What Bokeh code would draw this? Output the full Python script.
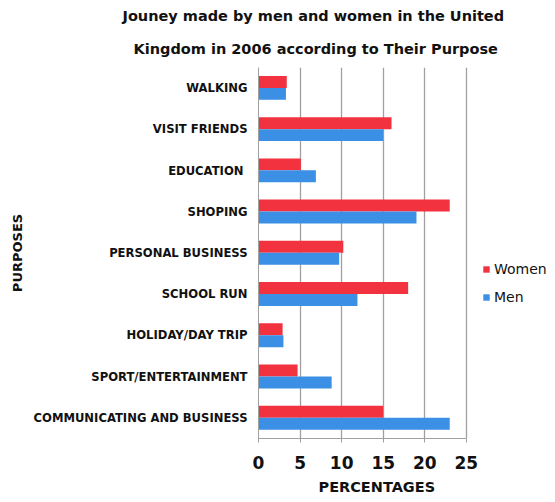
from bokeh.plotting import figure
from bokeh.models import FactorRange, Legend, LegendItem, Title, ColumnDataSource, FixedTicker
from bokeh.transform import dodge
from bokeh.embed import file_html
from bokeh.resources import INLINE

purposes = ["WALKING", "VISIT FRIENDS", "EDUCATION ", "SHOPING", "PERSONAL BUSINESS",
            "SCHOOL RUN", "HOLIDAY/DAY TRIP", "SPORT/ENTERTAINMENT", "COMMUNICATING AND BUSINESS"]
women = [3.4, 16.0, 5.1, 23.0, 10.2, 18.0, 2.9, 4.7, 15.0]
men = [3.3, 15.0, 6.9, 19.0, 9.7, 11.9, 3.0, 8.8, 23.0]
x_ticks = [0, 5, 10, 15, 20, 25]
title_lines = ["Jouney made by men and women in the United",
               "Kingdom in 2006 according to Their Purpose"]

FONT = "DejaVu Sans"
RED = "#f2323f"
BLUE = "#3b8fe4"

src = ColumnDataSource(dict(p=purposes, w=women, m=men))

p = figure(width=555, height=502, output_backend="svg", toolbar_location=None,
           y_range=FactorRange(factors=list(reversed(purposes))), x_range=(0, 35),
           min_border_left=258, min_border_right=6, min_border_top=67, min_border_bottom=64)
p.outline_line_color = None
p.background_fill_color = "white"

rw = p.hbar(y=dodge("p", 0.15, range=p.y_range), right="w", left=0, height=0.29,
            source=src, fill_color=RED, line_color=None)
rm = p.hbar(y=dodge("p", -0.14, range=p.y_range), right="m", left=0, height=0.29,
            source=src, fill_color=BLUE, line_color=None)

p.xaxis.ticker = FixedTicker(ticks=x_ticks)
p.xaxis.bounds = (0, 25)
p.xgrid.grid_line_color = "#a0a0a0"
p.xgrid.grid_line_width = 1.3
p.ygrid.grid_line_color = None

p.xaxis.major_label_text_font = FONT
p.xaxis.major_label_text_font_style = "bold"
p.xaxis.major_label_text_font_size = "17px"
p.xaxis.major_label_text_color = "#111111"
p.xaxis.major_label_standoff = 13
p.xaxis.axis_line_color = "#a0a0a0"
p.xaxis.major_tick_line_color = "#a0a0a0"
p.xaxis.major_tick_out = 4
p.xaxis.major_tick_in = 0
p.xaxis.minor_tick_line_color = None

p.yaxis.major_label_text_font = FONT
p.yaxis.major_label_text_font_style = "bold"
p.yaxis.major_label_text_font_size = "11.6px"
p.yaxis.major_label_text_color = "#111111"
p.yaxis.major_label_standoff = 5
p.yaxis.axis_line_color = "#a0a0a0"
p.yaxis.major_tick_line_color = None
p.yaxis.axis_label = "PURPOSES"
p.yaxis.axis_label_text_font = FONT
p.yaxis.axis_label_text_font_style = "bold"
p.yaxis.axis_label_text_font_size = "13px"
p.yaxis.axis_label_text_color = "#111111"
p.yaxis.axis_label_standoff = 6

legend = Legend(items=[LegendItem(label="Women", renderers=[rw]),
                       LegendItem(label="Men", renderers=[rm])],
                location=(224, 133), glyph_width=8, glyph_height=8, label_height=14,
                spacing=12, padding=0, margin=0, border_line_color=None,
                background_fill_alpha=0, label_text_font=FONT,
                label_text_font_size="14px", label_standoff=4, label_text_color="#111111")
p.add_layout(legend)

# line closest to the frame first
p.add_layout(Title(text=title_lines[1], align="left", offset=-125, text_font=FONT,
                   text_font_style="bold", text_font_size="14.5px", text_color="#111111",
                   standoff=21), "above")
p.add_layout(Title(text=title_lines[0], align="left", offset=-136, text_font=FONT,
                   text_font_style="bold", text_font_size="14.5px", text_color="#111111",
                   standoff=10), "above")

p.add_layout(Title(text="PERCENTAGES", align="left", offset=60, text_font=FONT,
                   text_font_style="bold", text_font_size="14.5px", text_color="#111111",
                   standoff=11), "below")

open("out.html", "w").write(file_html(p, INLINE))
